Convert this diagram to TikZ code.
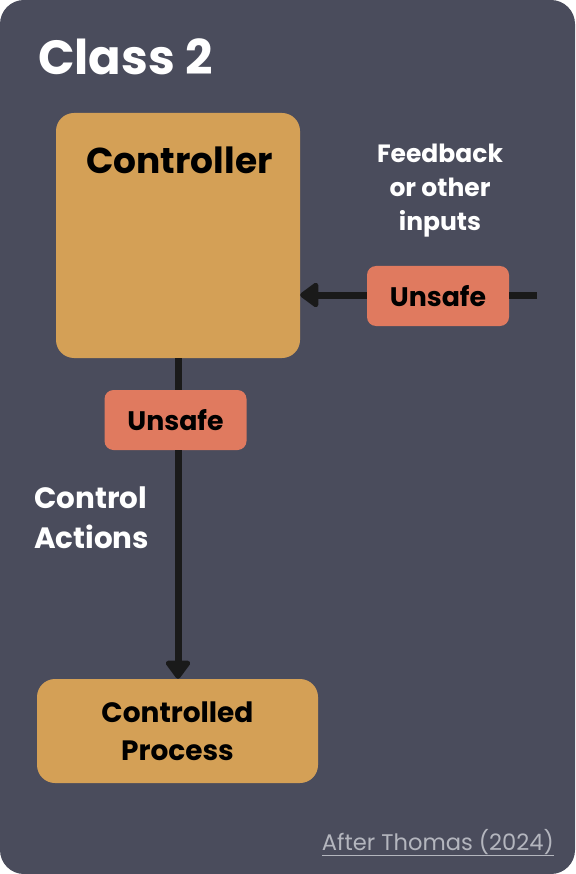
\documentclass[tikz,border=0pt]{standalone}
\usepackage{fontspec}
\setmainfont{Poppins}
\usepackage{xcolor}
\usepackage{tikz}
\usetikzlibrary{arrows.meta,positioning}
\definecolor{slate}{HTML}{4A4C5C}
\definecolor{sand}{HTML}{D4A056}
\definecolor{coral}{HTML}{E07A5F}
\definecolor{ink}{HTML}{1A1A1A}
\definecolor{mist}{HTML}{B4B6BE}

\begin{document}
\begin{tikzpicture}[
  x=1pt, y=-1pt,
  every node/.style={inner sep=0pt},
  sandbox/.style={fill=sand, rounded corners=18pt},
  unsafebox/.style={
    fill=coral,
    rounded corners=9pt,
    minimum width=142pt,
    minimum height=60pt,
    font=\fontsize{26.8}{30}\selectfont\bfseries,
    text=black
  },
  whitetext/.style={text=white, font=\fontsize{25}{34}\selectfont\bfseries},
  wire/.style={draw=ink, line width=7pt},
  arrowwire/.style={wire, -{Triangle[width=28pt, length=20pt, round]}}
]

% panel
\fill[slate, rounded corners=24pt] (0,0) rectangle (575,874);

\node[anchor=base west, text=white, font=\fontsize{48}{50}\selectfont\bfseries]
  (title) at (38,75) {Class 2};

% boxes
\node[sandbox, minimum width=244pt, minimum height=245pt,
  label={[anchor=base, xshift=1.5pt, yshift=-61pt, font=\fontsize{36}{40}\selectfont\bfseries]north:Controller}]
  (controller) at (178,235.5) {};

\node[sandbox, minimum width=281pt, minimum height=104pt, align=center,
  font=\fontsize{28}{38}\selectfont\bfseries]
  (process) at (177.5,731) {Controlled\\Process};

\node[unsafebox] (unsafeIn) at (438,296) {Unsafe};
\node[unsafebox] (unsafeOut) at (175.5,420) {Unsafe};

% labels
\node[whitetext, align=center] (feedbackText) at (440,191)
  {Feedback\\or other\\inputs};

\node[whitetext, align=left, anchor=north west,
  font=\fontsize{29.4}{40}\selectfont\bfseries] (controlText) at (34,487)
  {Control\\Actions};

\node[anchor=base east, text=mist, font=\fontsize{22.6}{24}\selectfont]
  (credit) at (554,850) {\underline{After Thomas (2024)}};

% connectors
\coordinate (feedIn) at (537,295);
\draw[wire] (feedIn) -- (feedIn -| unsafeIn.east);
\draw[arrowwire] (feedIn -| unsafeIn.west) -- (feedIn -| controller.east);

\draw[wire] (controller.south) -- (controller.south |- unsafeOut.north);
\draw[arrowwire] (controller.south |- unsafeOut.south) -- (controller.south |- process.north);

\end{tikzpicture}
\end{document}
